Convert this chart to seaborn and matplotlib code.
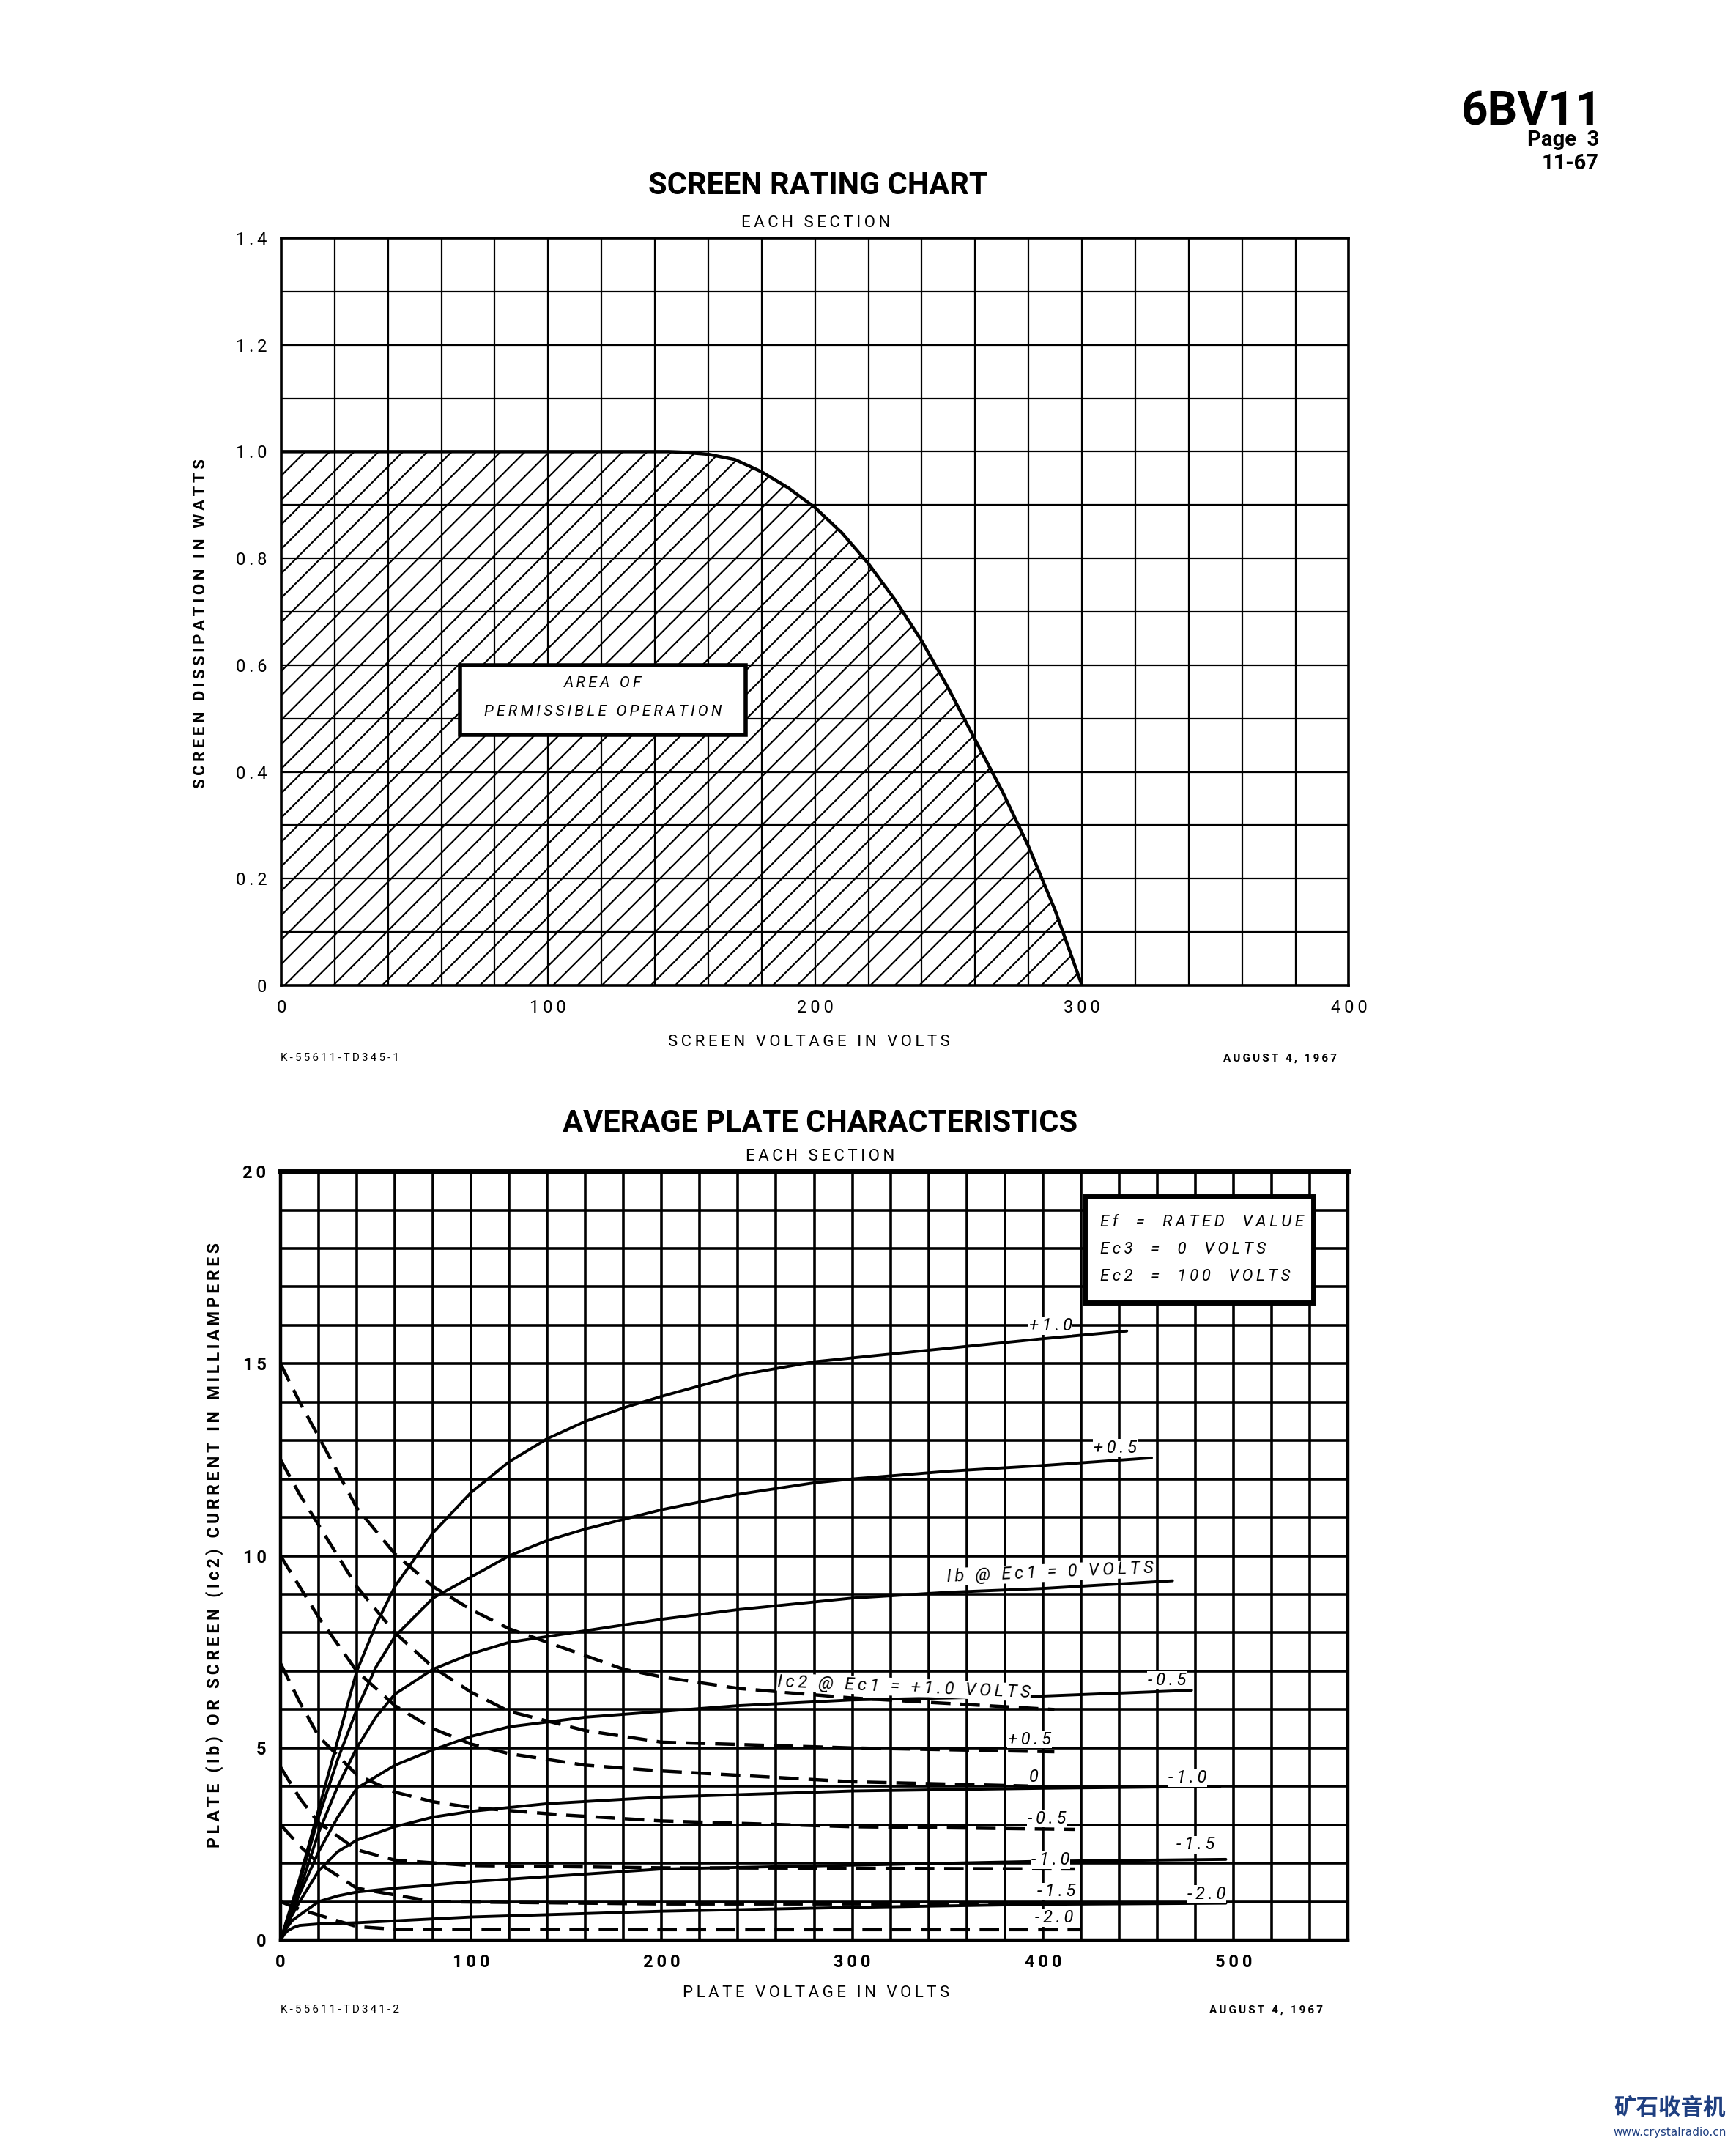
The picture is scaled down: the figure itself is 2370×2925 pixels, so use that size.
import numpy as np
import pandas as pd
import matplotlib
matplotlib.use('Agg')
import matplotlib.pyplot as plt
from matplotlib.patches import Rectangle
import seaborn as sns

sns.set_theme(style='white')
plt.rcParams['font.family'] = ['Roboto', 'DejaVu Sans']
plt.rcParams['text.color'] = 'black'
plt.rcParams['axes.labelcolor'] = 'black'
plt.rcParams['hatch.linewidth'] = 1.6
plt.rcParams['hatch.color'] = 'black'

# ---------------- screen rating chart data ----------------
screen_volts = [0, 145, 150, 160, 170, 180, 190, 200, 210, 220, 230, 240, 250, 260, 270, 280, 290, 300]
screen_watts = [1.0, 1.0, 0.999, 0.995, 0.985, 0.962, 0.932, 0.895, 0.848, 0.79, 0.722, 0.645, 0.556, 0.46, 0.365, 0.26, 0.14, 0.0]

# ---------------- plate characteristics data ----------------
# plate current Ib (solid), one per Ec1
ib_pos10_v = [0, 5, 10, 20, 30, 40, 50, 60, 80, 100, 120, 140, 160, 180, 200, 240, 280, 300, 350, 400, 444]
ib_pos10_i = [0, 0.8, 1.6, 3.4, 5.2, 7.0, 8.2, 9.2, 10.6, 11.65, 12.45, 13.05, 13.5, 13.85, 14.15, 14.7, 15.05, 15.15, 15.4, 15.65, 15.85]
ib_pos05_v = [0, 5, 10, 20, 30, 40, 50, 60, 80, 100, 120, 140, 160, 200, 240, 280, 300, 350, 400, 457]
ib_pos05_i = [0, 0.75, 1.5, 3.2, 4.7, 6.0, 7.1, 7.9, 8.9, 9.45, 10.0, 10.4, 10.7, 11.2, 11.6, 11.9, 12.0, 12.2, 12.35, 12.55]
ib_zero_v = [0, 5, 10, 20, 30, 40, 50, 60, 80, 100, 120, 160, 200, 240, 300, 350, 400, 468]
ib_zero_i = [0, 0.65, 1.3, 2.8, 4.0, 5.0, 5.8, 6.4, 7.05, 7.45, 7.75, 8.05, 8.35, 8.6, 8.9, 9.05, 9.15, 9.35]
ib_neg05_v = [0, 5, 10, 20, 30, 40, 60, 80, 100, 120, 160, 200, 240, 300, 400, 478]
ib_neg05_i = [0, 0.6, 1.2, 2.3, 3.2, 3.95, 4.55, 4.95, 5.3, 5.55, 5.8, 5.95, 6.1, 6.25, 6.35, 6.5]
ib_neg10_v = [0, 5, 10, 20, 30, 40, 60, 80, 100, 140, 200, 300, 400, 493]
ib_neg10_i = [0, 0.55, 1.0, 1.8, 2.3, 2.6, 2.95, 3.2, 3.35, 3.55, 3.72, 3.88, 3.95, 4.0]
ib_neg15_v = [0, 3, 6, 10, 20, 30, 40, 60, 100, 200, 300, 400, 496]
ib_neg15_i = [0, 0.3, 0.5, 0.65, 1.0, 1.15, 1.25, 1.35, 1.52, 1.85, 1.95, 2.05, 2.1]
ib_neg20_v = [0, 2, 4, 7, 10, 20, 40, 100, 200, 300, 400, 496]
ib_neg20_i = [0, 0.15, 0.25, 0.33, 0.38, 0.42, 0.45, 0.6, 0.75, 0.85, 0.93, 0.96]

# screen current Ic2 (dashed), one per Ec1
ic2_pos10_v = [0, 10, 20, 40, 60, 80, 100, 120, 140, 180, 200, 240, 300, 406]
ic2_pos10_i = [15.0, 14.0, 13.1, 11.25, 10.05, 9.2, 8.6, 8.1, 7.75, 7.05, 6.85, 6.55, 6.3, 6.0]
ic2_pos05_v = [0, 10, 20, 40, 60, 80, 100, 120, 160, 200, 300, 406]
ic2_pos05_i = [12.5, 11.6, 10.8, 9.2, 8.0, 7.1, 6.45, 5.95, 5.45, 5.15, 5.0, 4.9]
ic2_zero_v = [0, 10, 20, 40, 60, 80, 100, 120, 160, 200, 300, 417]
ic2_zero_i = [10.0, 9.2, 8.4, 7.0, 6.1, 5.5, 5.1, 4.85, 4.55, 4.4, 4.12, 3.98]
ic2_neg05_v = [0, 10, 20, 40, 60, 80, 100, 150, 200, 300, 417]
ic2_neg05_i = [7.2, 6.2, 5.3, 4.3, 3.85, 3.6, 3.45, 3.25, 3.1, 2.95, 2.88]
ic2_neg10_v = [0, 10, 20, 40, 60, 100, 200, 300, 417]
ic2_neg10_i = [4.5, 3.7, 3.05, 2.35, 2.08, 1.94, 1.88, 1.87, 1.85]
ic2_neg15_v = [0, 10, 20, 40, 80, 200, 300, 417]
ic2_neg15_i = [3.0, 2.45, 2.0, 1.35, 1.0, 0.94, 0.94, 0.93]
ic2_neg20_v = [0, 10, 20, 40, 60, 200, 420]
ic2_neg20_i = [1.0, 0.8, 0.65, 0.35, 0.28, 0.27, 0.27]

ib_labels = ['+1.0', '+0.5', 'Ib @ Ec1 = 0 VOLTS', '-0.5', '-1.0', '-1.5', '-2.0']
ic2_labels = ['Ic2 @ Ec1 = +1.0 VOLTS', '+0.5', '0', '-0.5', '-1.0', '-1.5', '-2.0']
ib_label_x = [404, 438, 404, 465, 476, 480, 486]
ib_label_y = [15.98, 12.8, 9.56, 6.76, 4.22, 2.48, 1.2]
ic2_label_x = [327, 393, 395, 402, 404, 407, 406]
ic2_label_y = [6.58, 5.22, 4.25, 3.16, 2.08, 1.26, 0.58]

legend_lines = ['Ef  =  RATED  VALUE', 'Ec3  =  0  VOLTS', 'Ec2  =  100  VOLTS']
legend_y = [18.68, 17.97, 17.26]

TS = '\u2009'


def sp(s):
    return TS.join(s)


fig = plt.figure(figsize=(23.7, 29.25), dpi=100)
fig.patch.set_facecolor('white')

# ================= top chart =================
ax1 = fig.add_axes([0.162, 0.5402, 0.615, 0.3487])
ax1.set_facecolor('white')
ax1.fill_between(screen_volts, screen_watts, 0, facecolor='none', hatch='/',
                 edgecolor='black', linewidth=0, zorder=1)
sns.lineplot(x=screen_volts, y=screen_watts, ax=ax1, color='black', lw=3.2,
             sort=False, estimator=None, zorder=4)
ax1.set_xlim(0, 400)
ax1.set_ylim(0, 1.4)
xt = np.arange(0, 401, 20)
yt = np.round(np.arange(0, 1.41, 0.1), 1)
ax1.set_xticks(xt)
ax1.set_xticklabels([sp(str(v)) if v % 100 == 0 else '' for v in xt])
ax1.set_yticks(yt)
ax1.set_yticklabels([('0' if v == 0 else sp('%.1f' % v)) if round(v * 10) % 2 == 0 else '' for v in yt])
ax1.grid(True, color='black', lw=1.6, zorder=0.5)
ax1.set_axisbelow(True)
ax1.tick_params(length=0, labelsize=17, pad=14, colors='black')
for sp_ in ax1.spines.values():
    sp_.set_color('black')
    sp_.set_linewidth(2.6)
ax1.set_xlabel('')
ax1.set_ylabel('')
ax1.add_patch(Rectangle((67, 0.47), 107, 0.13, facecolor='white', edgecolor='black',
                        linewidth=4, zorder=5))
ax1.text(120.5, 0.566, sp('AREA OF'), ha='center', va='center', fontsize=15,
         style='italic', zorder=6)
ax1.text(120.5, 0.513, sp('PERMISSIBLE OPERATION'), ha='center', va='center', fontsize=15,
         style='italic', zorder=6)

fig.text(0.4713, 0.9094, 'SCREEN RATING CHART', ha='center', va='baseline',
         fontsize=30, fontweight='bold')
fig.text(0.4700, 0.894, sp('EACH SECTION'), ha='center', va='baseline', fontsize=16)
fig.text(0.1157, 0.709, sp('SCREEN DISSIPATION IN WATTS'), rotation=90,
         ha='center', va='center', fontsize=16, fontweight='bold')
fig.text(0.466, 0.5138, sp('SCREEN VOLTAGE IN VOLTS'), ha='center', va='center', fontsize=16)
fig.text(0.1616, 0.5063, sp('K-55611-TD345-1'), ha='left', va='center', fontsize=11)
fig.text(0.770, 0.5063, sp('AUGUST 4, 1967'), ha='right', va='center', fontsize=11, fontweight='bold')

# ================= bottom chart =================
ax2 = fig.add_axes([0.1616, 0.0947, 0.6148, 0.3586])
ax2.set_facecolor('white')

ib_sets = [(ib_pos10_v, ib_pos10_i), (ib_pos05_v, ib_pos05_i), (ib_zero_v, ib_zero_i),
           (ib_neg05_v, ib_neg05_i), (ib_neg10_v, ib_neg10_i), (ib_neg15_v, ib_neg15_i),
           (ib_neg20_v, ib_neg20_i)]
ic2_sets = [(ic2_pos10_v, ic2_pos10_i), (ic2_pos05_v, ic2_pos05_i), (ic2_zero_v, ic2_zero_i),
            (ic2_neg05_v, ic2_neg05_i), (ic2_neg10_v, ic2_neg10_i), (ic2_neg15_v, ic2_neg15_i),
            (ic2_neg20_v, ic2_neg20_i)]

for v, i in ib_sets:
    sns.lineplot(x=v, y=i, ax=ax2, color='black', lw=2.8, sort=False, estimator=None, zorder=4)
for v, i in ic2_sets:
    sns.lineplot(x=v, y=i, ax=ax2, color='black', lw=3.2, sort=False, estimator=None,
                 linestyle=(0, (6, 3)), zorder=4)

for lab, x, y in zip(ib_labels, ib_label_x, ib_label_y):
    rot = 2.5 if len(lab) > 5 else 0
    ax2.text(x, y, sp(lab), ha='center', va='center', fontsize=17,
             style='italic', rotation=rot, zorder=5,
             bbox=dict(facecolor='white', edgecolor='none', pad=0.5))
for lab, x, y in zip(ic2_labels, ic2_label_x, ic2_label_y):
    rot = -2.5 if len(lab) > 5 else 0
    ax2.text(x, y, sp(lab), ha='center', va='center', fontsize=17,
             style='italic', rotation=rot, zorder=5,
             bbox=dict(facecolor='white', edgecolor='none', pad=0.5))

# condition box
ax2.add_patch(Rectangle((422, 16.58), 120, 2.78, facecolor='white', edgecolor='black',
                        linewidth=5, zorder=5))
for line, y in zip(legend_lines, legend_y):
    ax2.text(430, y, sp(line), ha='left', va='center', fontsize=16, style='italic', zorder=6)

ax2.set_xlim(0, 560)
ax2.set_ylim(0, 20)
xt2 = np.arange(0, 561, 20)
yt2 = np.arange(0, 21, 1)
ax2.set_xticks(xt2)
ax2.set_xticklabels([sp(str(v)) if v % 100 == 0 and v <= 500 else '' for v in xt2])
ax2.set_yticks(yt2)
ax2.set_yticklabels([sp(str(v)) if v % 5 == 0 else '' for v in yt2])
ax2.grid(True, color='black', lw=2.6, zorder=0.5)
ax2.set_axisbelow(True)
ax2.tick_params(length=0, labelsize=17, pad=14, colors='black')
for t in ax2.get_xticklabels() + ax2.get_yticklabels():
    t.set_fontweight('bold')
for sp_ in ax2.spines.values():
    sp_.set_color('black')
    sp_.set_linewidth(3.2)
ax2.spines['top'].set_linewidth(5)
ax2.set_xlabel('')
ax2.set_ylabel('')

fig.text(0.4724, 0.4718, 'AVERAGE PLATE CHARACTERISTICS', ha='center', va='baseline',
         fontsize=30, fontweight='bold')
fig.text(0.4724, 0.4585, sp('EACH SECTION'), ha='center', va='baseline', fontsize=16)
fig.text(0.1236, 0.279, sp('PLATE (Ib) OR SCREEN (Ic2) CURRENT IN MILLIAMPERES'), rotation=90,
         ha='center', va='center', fontsize=16.5, fontweight='bold')
fig.text(0.470, 0.0698, sp('PLATE VOLTAGE IN VOLTS'), ha='center', va='center', fontsize=16)
fig.text(0.1616, 0.0622, sp('K-55611-TD341-2'), ha='left', va='center', fontsize=11)
fig.text(0.762, 0.0622, sp('AUGUST 4, 1967'), ha='right', va='center', fontsize=11, fontweight='bold')

# ================= page header =================
fig.text(0.9228, 0.9418, '6BV11', ha='right', va='baseline', fontsize=46, fontweight='bold')
fig.text(0.921, 0.9318, 'Page  3', ha='right', va='baseline', fontsize=21, fontweight='bold')
fig.text(0.921, 0.921, '11-67', ha='right', va='baseline', fontsize=21, fontweight='bold')

# watermark
fig.text(0.962, 0.0135, '矿石收音机', ha='center', va='baseline', fontsize=22, fontweight='bold',
         color='#1f3f80', family=['Noto Sans CJK SC', 'DejaVu Sans'])
fig.text(0.962, 0.0035, 'www.crystalradio.cn', ha='center', va='baseline', fontsize=11,
         color='#1f3f80', family=['DejaVu Sans'])

fig.savefig('out.png', dpi=100, facecolor='white')
